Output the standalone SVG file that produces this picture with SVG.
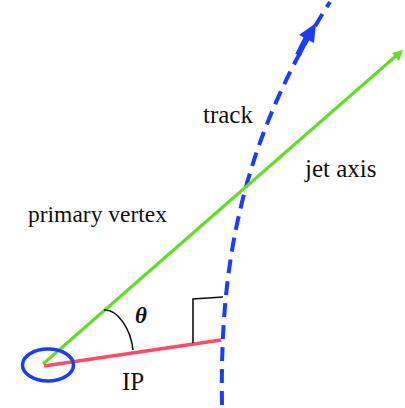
<svg xmlns="http://www.w3.org/2000/svg" width="405" height="408" viewBox="0 0 405 408">
<style>
.lbl{font-family:"Liberation Serif","Times New Roman",serif;font-size:25px;fill:#111}
.thin{fill:none;stroke:#111;stroke-width:1.6}
</style>
<rect width="405" height="408" fill="#fff"/>
<g id="connectors">
<path id="track" d="M222,405 C220,280 235,150 330,2" fill="none" stroke="#1a3cff" stroke-width="4" stroke-dasharray="14 8"/>
<polygon points="316,23 299,35 314,43" fill="#1a3cff"/>
<line x1="298" y1="55" x2="307" y2="37" stroke="#1a3cff" stroke-width="6"/>
<line id="jet" x1="43" y1="364" x2="397" y2="55" stroke="#5fe01f" stroke-width="3"/>
<polygon points="403,50 392,53 399,61" fill="#5fe01f"/>
<line id="ip" x1="44" y1="366" x2="221" y2="340" stroke="#ff4a6a" stroke-width="3.5"/>
<polyline class="thin" points="193,343 193,299 223,297"/>
<path class="thin" d="M104,310 C118,309 131,330 133,350"/>
</g>
<g id="vertex">
<ellipse cx="48" cy="365" rx="25.5" ry="16" fill="none" stroke="#1a3cff" stroke-width="3.5"/>
</g>
<text class="lbl" x="203" y="123">track</text>
<text class="lbl" x="305" y="177">jet axis</text>
<text class="lbl" x="28" y="222" style="font-size:23.5px">primary vertex</text>
<text class="lbl" x="122" y="390">IP</text>
<text class="lbl" x="135" y="323" style="font-weight:bold;font-style:italic;font-size:23px">θ</text>
</svg>
